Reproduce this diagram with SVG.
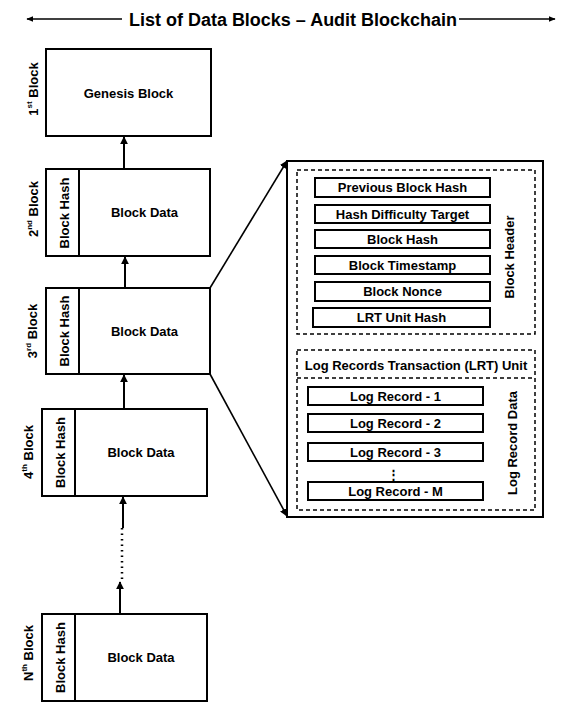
<svg xmlns="http://www.w3.org/2000/svg" width="568" height="712" viewBox="0 0 568 712">
<defs>
<marker id="ah" viewBox="0 0 10 10" refX="9" refY="5" markerWidth="8" markerHeight="8" markerUnits="userSpaceOnUse" orient="auto">
<path d="M0,0 L10,5 L0,10 z" fill="#000"/>
</marker>
<marker id="ahs" viewBox="0 0 10 10" refX="9" refY="5" markerWidth="7" markerHeight="7" markerUnits="userSpaceOnUse" orient="auto">
<path d="M0,1 L10,5 L0,9 z" fill="#000"/>
</marker>
<style>
text{font-family:"Liberation Sans",Arial,sans-serif;font-weight:bold;fill:#000}
.box{fill:#fff;stroke:#000;stroke-width:2}
.dash{fill:none;stroke:#000;stroke-width:1.5;stroke-dasharray:4 3}
.t{font-size:13px;text-anchor:middle;dominant-baseline:central}
.lbl{font-size:13px;text-anchor:middle;dominant-baseline:central}
.con{stroke:#000;stroke-width:2;fill:none}
.sup{font-size:8px}
</style>
</defs>
<rect width="568" height="712" fill="#fff"/>

<g id="title">
<text x="293" y="26" font-size="18" text-anchor="middle" textLength="328" lengthAdjust="spacingAndGlyphs">List of Data Blocks – Audit Blockchain</text>
<line x1="122" y1="19" x2="27" y2="19" stroke="#000" stroke-width="1.6" marker-end="url(#ahs)"/>
<line x1="459" y1="19" x2="555" y2="19" stroke="#000" stroke-width="1.6" marker-end="url(#ahs)"/>
</g>

<g id="block1">
<rect class="box" x="46" y="49" width="165" height="87"/>
<text class="t" x="128.5" y="93">Genesis Block</text>
<text class="lbl" transform="translate(33,89) rotate(-90)">1<tspan class="sup" dy="-4">st</tspan><tspan dy="4"> Block</tspan></text>
</g>

<g id="block2">
<rect class="box" x="46" y="169" width="164" height="87"/>
<line x1="79" y1="169" x2="79" y2="256" stroke="#000" stroke-width="2"/>
<text class="t" x="144.5" y="212.5">Block Data</text>
<text class="t" transform="translate(64,213) rotate(-90)">Block Hash</text>
<text class="lbl" transform="translate(33,209) rotate(-90)">2<tspan class="sup" dy="-4">nd</tspan><tspan dy="4"> Block</tspan></text>
</g>

<g id="block3">
<rect class="box" x="46" y="288" width="164" height="86"/>
<line x1="79" y1="288" x2="79" y2="374" stroke="#000" stroke-width="2"/>
<text class="t" x="144.5" y="331">Block Data</text>
<text class="t" transform="translate(64,331) rotate(-90)">Block Hash</text>
<text class="lbl" transform="translate(32,331) rotate(-90)">3<tspan class="sup" dy="-4">rd</tspan><tspan dy="4"> Block</tspan></text>
</g>

<g id="block4">
<rect class="box" x="42" y="409" width="165" height="87"/>
<line x1="75" y1="409" x2="75" y2="496" stroke="#000" stroke-width="2"/>
<text class="t" x="141" y="452.5">Block Data</text>
<text class="t" transform="translate(60,452.5) rotate(-90)">Block Hash</text>
<text class="lbl" transform="translate(28,452) rotate(-90)">4<tspan class="sup" dy="-4">th</tspan><tspan dy="4"> Block</tspan></text>
</g>

<g id="blockN">
<rect class="box" x="42" y="614" width="165" height="87"/>
<line x1="75" y1="614" x2="75" y2="701" stroke="#000" stroke-width="2"/>
<text class="t" x="141" y="657.5">Block Data</text>
<text class="t" transform="translate(60,657.5) rotate(-90)">Block Hash</text>
<text class="lbl" transform="translate(28,653) rotate(-90)">N<tspan class="sup" dy="-4">th</tspan><tspan dy="4"> Block</tspan></text>
</g>

<g id="detail">
<rect class="box" x="287" y="161" width="256" height="356"/>
<g id="header">
<rect class="dash" x="297" y="170" width="238" height="164"/>
<rect class="box" x="315" y="178" width="175" height="19"/>
<text class="t" x="402.5" y="187.5">Previous Block Hash</text>
<rect class="box" x="315" y="205" width="175" height="18"/>
<text class="t" x="402.5" y="214">Hash Difficulty Target</text>
<rect class="box" x="315" y="230" width="175" height="18"/>
<text class="t" x="402.5" y="239">Block Hash</text>
<rect class="box" x="315" y="256" width="175" height="18"/>
<text class="t" x="402.5" y="265">Block Timestamp</text>
<rect class="box" x="315" y="282" width="175" height="19"/>
<text class="t" x="402.5" y="291.5">Block Nonce</text>
<rect class="box" x="313" y="308" width="177" height="19"/>
<text class="t" x="401.5" y="317.5">LRT Unit Hash</text>
<text class="t" transform="translate(509,257) rotate(-90)">Block Header</text>
</g>
<g id="lrt">
<rect class="dash" x="297" y="350" width="238" height="160"/>
<line class="dash" x1="297" y1="378" x2="535" y2="378"/>
<text class="t" x="416" y="365">Log Records Transaction (LRT) Unit</text>
<rect class="box" x="308" y="387" width="175" height="18"/>
<text class="t" x="395.5" y="396">Log Record - 1</text>
<rect class="box" x="308" y="414" width="175" height="18"/>
<text class="t" x="395.5" y="423">Log Record - 2</text>
<rect class="box" x="308" y="443" width="175" height="18"/>
<text class="t" x="395.5" y="452">Log Record - 3</text>
<text class="t" x="393" y="474" font-size="10">⋮</text>
<rect class="box" x="308" y="482" width="175" height="18"/>
<text class="t" x="395.5" y="491">Log Record - M</text>
<text class="t" transform="translate(512,443) rotate(-90)">Log Record Data</text>
</g>
</g>

<g id="connectors">
<line class="con" x1="124" y1="168" x2="124" y2="137" marker-end="url(#ah)"/>
<line class="con" x1="125" y1="288" x2="125" y2="257" marker-end="url(#ah)"/>
<line class="con" x1="124" y1="409" x2="124" y2="375" marker-end="url(#ah)"/>
<line class="con" x1="123" y1="528" x2="123" y2="497" marker-end="url(#ah)"/>
<line x1="122" y1="528" x2="122" y2="580" stroke="#000" stroke-width="2.5" stroke-dasharray="1.5 4"/>
<line class="con" x1="120" y1="614" x2="120" y2="582" marker-end="url(#ah)"/>
<line x1="210" y1="288" x2="287" y2="161" stroke="#000" stroke-width="1.6" marker-end="url(#ah)"/>
<line x1="210" y1="374" x2="287" y2="516" stroke="#000" stroke-width="1.6" marker-end="url(#ah)"/>
</g>
</svg>
